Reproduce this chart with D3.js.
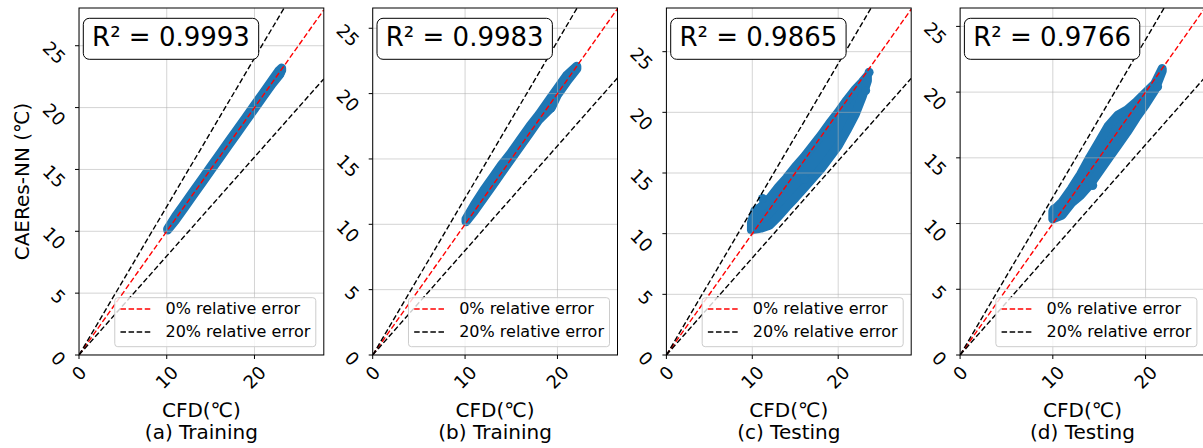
<!DOCTYPE html>
<html>
<head>
<meta charset="utf-8">
<script src="https://cdn.jsdelivr.net/npm/d3@7"></script>
<style>
body { margin: 0; background: #fff; }
svg { display: block; font-family: "DejaVu Sans", sans-serif; }
</style>
</head>
<body>
<div id="chart"></div>
<script>
// ----------------------------------------------------------
// DATA -----------------------------------------------------
// ----------------------------------------------------------
var panelLabels = ["(a) Training", "(b) Training", "(c) Testing", "(d) Testing"];
var r2Values = ["0.9993", "0.9983", "0.9865", "0.9766"];
var xMaxValues = [27.9, 26.5, 28.5, 26.4];
var yMaxValues = [28.05, 26.55, 28.6, 26.4];
var xTicks = [0, 10, 20];
var yTicks = [0, 5, 10, 15, 20, 25];
var errorRatios = [1.0, 1.2, 0.8];
var legendLabels = ["0% relative error", "20% relative error"];

// scatter clouds: CFD value, lower / upper CAERes-NN value of the dense band (marker centres)
var a_cfd = [10.1, 11, 12, 13, 14, 15, 16, 17, 18, 19, 20, 21, 22, 22.8, 23.1];
var a_lo  = [10.1, 10.9, 11.9, 12.9, 13.9, 14.9, 15.9, 16.9, 17.9, 18.9, 19.9, 20.9, 21.9, 22.6, 23.0];
var a_hi  = [10.2, 11.2, 12.2, 13.2, 14.2, 15.2, 16.2, 17.2, 18.2, 19.2, 20.2, 21.2, 22.2, 23.0, 23.2];

var b_cfd = [10.1, 11, 12, 13, 14, 15, 16, 17, 18, 19, 19.4, 20, 21, 22.1];
var b_lo  = [10.2, 11.0, 12.0, 13.0, 14.0, 15.0, 16.0, 17.0, 18.0, 18.7, 19.0, 19.9, 20.9, 21.9];
var b_hi  = [10.4, 11.5, 12.6, 13.6, 14.6, 15.5, 16.5, 17.5, 18.4, 19.4, 19.8, 20.4, 21.4, 22.1];

var c_cfd = [9.9, 10.3, 11, 12, 13, 14, 15, 16, 17, 18, 19, 20, 21, 22, 22.8, 23.4];
var c_lo  = [10.3, 10.35, 10.45, 10.7, 11.4, 12.2, 12.95, 13.75, 14.55, 15.35, 16.3, 17.25, 18.5, 19.85, 21.3, 22.6];
var c_hi  = [10.9, 11.9, 12.2, 12.9, 13.8, 14.6, 15.5, 16.3, 17.2, 18.1, 19.1, 20.0, 21.0, 21.9, 22.5, 23.0];

var d_cfd = [10.0, 11, 12, 13, 14, 15, 16, 17, 18, 19, 20, 21, 21.8];
var d_lo  = [10.35, 10.65, 11.55, 12.15, 12.95, 13.95, 14.95, 15.95, 16.95, 18.05, 19.05, 20.15, 21.6];
var d_hi  = [10.95, 11.65, 12.65, 13.75, 15.05, 16.25, 17.45, 18.25, 18.65, 19.25, 19.95, 20.65, 21.8];

// isolated points outside the bands
var a_out_x = [22.9];
var a_out_y = [22.7];
var b_out_x = [19.3];
var b_out_y = [18.9];
var c_out_x = [11.2, 16.1, 23.2, 23.6];
var c_out_y = [12.9, 14.5, 21.8, 23.3];
var d_out_x = [21.3, 14.3, 10.1];
var d_out_y = [20.4, 12.9, 11.1];

var bands = [
  { cfd: a_cfd, lo: a_lo, hi: a_hi, ox: a_out_x, oy: a_out_y },
  { cfd: b_cfd, lo: b_lo, hi: b_hi, ox: b_out_x, oy: b_out_y },
  { cfd: c_cfd, lo: c_lo, hi: c_hi, ox: c_out_x, oy: c_out_y },
  { cfd: d_cfd, lo: d_lo, hi: d_hi, ox: d_out_x, oy: d_out_y }
];

// ----------------------------------------------------------
// STRUCTURE ------------------------------------------------
// ----------------------------------------------------------
var width = 1203, height = 448;
var firstLeft = 79, panelStep = 293.7, panelW = 244.8;
var panelTop = 8, panelH = 347;
var markerR = 4.5;
var colorPoint = "#1f77b4";

var svg = d3.select("#chart").append("svg")
  .attr("width", width)
  .attr("height", height);

var defs = svg.append("defs");

// ----------------------------------------------------------
// PANELS ---------------------------------------------------
// ----------------------------------------------------------
bands.forEach(function(band, i) {
  var xMax = xMaxValues[i], yMax = yMaxValues[i];
  var x = d3.scaleLinear().domain([0, xMax]).range([0, panelW]);
  var y = d3.scaleLinear().domain([0, yMax]).range([panelH, 0]);

  var g = svg.append("g")
    .attr("transform", "translate(" + (firstLeft + i * panelStep) + "," + panelTop + ")");

  defs.append("clipPath").attr("id", "clip" + i)
    .append("rect").attr("width", panelW).attr("height", panelH);

  var plot = g.append("g").attr("clip-path", "url(#clip" + i + ")");

  // scatter band
  var rows = band.cfd.map(function(v, k) { return [v, band.lo[k], band.hi[k]]; });
  plot.append("path")
    .datum(rows)
    .attr("d", d3.area()
      .x(function(d) { return x(d[0]); })
      .y0(function(d) { return y(d[1]); })
      .y1(function(d) { return y(d[2]); }))
    .style("fill", colorPoint)
    .style("stroke", colorPoint)
    .style("stroke-width", markerR * 2)
    .style("stroke-linejoin", "round");

  plot.selectAll(".pt")
    .data(band.ox)
    .enter().append("circle")
    .attr("cx", function(d) { return x(d); })
    .attr("cy", function(d, k) { return y(band.oy[k]); })
    .attr("r", markerR)
    .style("fill", colorPoint);

  // grid
  plot.selectAll(".gx").data(xTicks).enter().append("line")
    .attr("x1", function(d) { return x(d); }).attr("x2", function(d) { return x(d); })
    .attr("y1", 0).attr("y2", panelH)
    .style("stroke", "#b0b0b0").style("stroke-opacity", 0.55).style("stroke-width", 1);
  plot.selectAll(".gy").data(yTicks).enter().append("line")
    .attr("y1", function(d) { return y(d); }).attr("y2", function(d) { return y(d); })
    .attr("x1", 0).attr("x2", panelW)
    .style("stroke", "#b0b0b0").style("stroke-opacity", 0.55).style("stroke-width", 1);

  // relative error lines
  plot.selectAll(".ref").data(errorRatios).enter().append("line")
    .attr("x1", x(0)).attr("y1", y(0))
    .attr("x2", x(xMax)).attr("y2", function(d) { return y(d * xMax); })
    .style("stroke", function(d) { return d === 1 ? "#ff0000" : "#000"; })
    .style("stroke-width", 1.4)
    .style("stroke-dasharray", "5.5,2.6");

  // spines
  g.append("rect")
    .attr("width", panelW).attr("height", panelH)
    .style("fill", "none").style("stroke", "#000").style("stroke-width", 1);

  // x ticks
  xTicks.forEach(function(t) {
    g.append("line")
      .attr("x1", x(t)).attr("x2", x(t)).attr("y1", panelH).attr("y2", panelH + 4)
      .style("stroke", "#000");
    var lab = g.append("text")
      .attr("text-anchor", "middle")
      .attr("dominant-baseline", "central")
      .style("font-size", "18px")
      .text(t);
    var w = lab.node().getComputedTextLength();
    var rb = (w + 13) * 0.707;
    lab.attr("transform", "translate(" + x(t) + "," + (panelH + 9.5 + rb / 2) + ") rotate(-45)");
  });

  // y ticks
  yTicks.forEach(function(t) {
    g.append("line")
      .attr("x1", -4).attr("x2", 0).attr("y1", y(t)).attr("y2", y(t))
      .style("stroke", "#000");
    var lab = g.append("text")
      .attr("text-anchor", "middle")
      .attr("dominant-baseline", "central")
      .style("font-size", "18px")
      .text(t);
    var w = lab.node().getComputedTextLength();
    var rb = (w + 13) * 0.707;
    lab.attr("transform", "translate(" + (-12 - rb / 2) + "," + (y(t) + 0.3 * w) + ") rotate(45)");
  });

  // x title + subtitle
  g.append("text")
    .attr("x", panelW / 2).attr("y", 417 - panelTop)
    .attr("text-anchor", "middle")
    .style("font-size", "20px")
    .text("CFD(\u2103)");
  g.append("text")
    .attr("x", panelW / 2).attr("y", 439 - panelTop)
    .attr("text-anchor", "middle")
    .style("font-size", "20px")
    .text(panelLabels[i]);

  // R² box
  var r2g = g.append("g");
  var r2Box = r2g.append("rect")
    .attr("x", 4.3).attr("y", 10.3).attr("height", 41).attr("rx", 6)
    .style("fill", "#fff").style("stroke", "#000").style("stroke-width", 1);
  var r2Text = r2g.append("text")
    .attr("x", 4.3 + 8.8).attr("y", 46 - panelTop)
    .style("font-size", "26px")
    .text("R² = " + r2Values[i]);
  r2Box.attr("width", r2Text.node().getComputedTextLength() + 17.6);

  // legend
  var lg = g.append("g");
  var lgBox = lg.append("rect")
    .attr("height", 49).attr("rx", 3)
    .style("fill", "#fff").style("fill-opacity", 0.8)
    .style("stroke", "#cccccc").style("stroke-width", 1);
  var maxW = 0;
  legendLabels.forEach(function(label, k) {
    var t = lg.append("text")
      .attr("x", 50.7).attr("y", 11.3 + k * 23)
      .attr("dominant-baseline", "central")
      .style("font-size", "16px")
      .text(label);
    maxW = Math.max(maxW, t.node().getComputedTextLength());
    lg.append("line")
      .attr("x1", 5.7).attr("x2", 38)
      .attr("y1", 11.3 + k * 23).attr("y2", 11.3 + k * 23)
      .style("stroke", k === 0 ? "#ff0000" : "#000")
      .style("stroke-width", 1.4)
      .style("stroke-dasharray", "5.5,2.6");
  });
  var lgW = 50.7 + maxW + 5.5;
  lgBox.attr("width", lgW);
  lg.attr("transform", "translate(" + (panelW - 8 - lgW) + "," + (panelH - 8.3 - 49) + ")");
});

// y title (first panel only)
svg.append("text")
  .attr("transform", "translate(29," + (panelTop + panelH / 2) + ") rotate(-90)")
  .attr("text-anchor", "middle")
  .style("font-size", "20px")
  .text("CAERes-NN (\u2103)");
</script>
</body>
</html>
